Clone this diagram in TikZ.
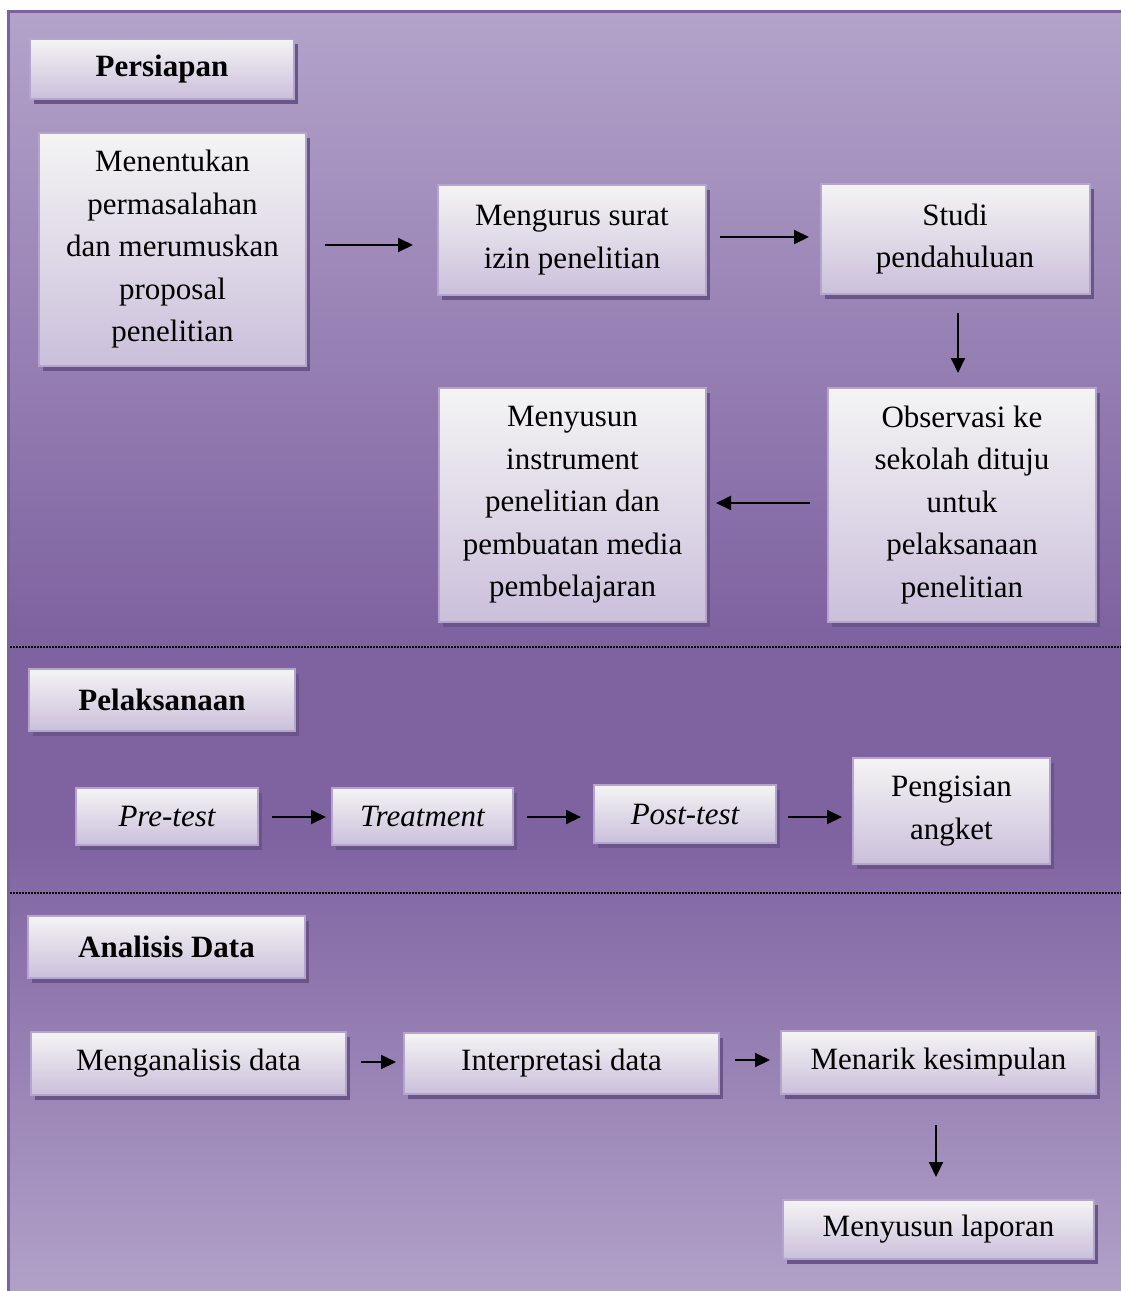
\documentclass[tikz,border=0pt]{standalone}
\usepackage{fontspec}
\setmainfont{Liberation Serif}
\usepackage{tikz}
\usetikzlibrary{positioning,shadows,arrows.meta}
\definecolor{bghigh}{HTML}{B3A3CA}
\definecolor{bgdark}{HTML}{7F63A1}
\definecolor{bglow}{HTML}{B2A2C9}
\definecolor{framecol}{HTML}{7E62A0}
\definecolor{boxtop}{HTML}{F4F4F4}
\definecolor{boxbot}{HTML}{CBBFDB}
\definecolor{boxedge}{HTML}{B5A4CE}
\definecolor{shadowcol}{HTML}{6A5589}
\pgfdeclareverticalshading{bgfade}{100bp}{color(0bp)=(bglow); color(25bp)=(bglow); color(43bp)=(bgdark); color(51bp)=(bgdark); color(75bp)=(bghigh); color(100bp)=(bghigh)}
\tikzstyle{block} = [rectangle, draw=boxedge, line width=2pt, top color=boxtop, bottom color=boxbot, align=center, inner sep=0pt, font=\fontsize{31}{42.5}\selectfont, drop shadow={shadow xshift=4pt, shadow yshift=-5pt, fill=shadowcol, opacity=1}]
\tikzstyle{head} = [block, font=\bfseries\fontsize{31}{42.5}\selectfont]
\tikzstyle{flow} = [-{Triangle[length=15pt,width=14pt]}, line width=2pt, black]
\tikzstyle{sep} = [black, line width=1.2pt, dash pattern=on 1.5pt off 1.5pt]

\begin{document}
\begin{tikzpicture}
  \useasboundingbox (0pt, 0pt) rectangle (1121pt, -1291pt);
  \fill[white] (0pt, 0pt) rectangle (1121pt, -1291pt);
  \draw[framecol, line width=3pt, shading=bgfade] (8.5pt, -11.5pt) rectangle (1130pt, -1300pt);
  \draw[sep] (10pt, -647pt) -- (1121pt, -647pt);
  \draw[sep] (10pt, -893pt) -- (1121pt, -893pt);
  % Persiapan
  \draw (162.0pt, -69.0pt)node[head, minimum width=264pt, minimum height=60pt](0){Persiapan};
  \draw (172.5pt, -249.5pt)node[block, minimum width=267pt, minimum height=233pt](1){Menentukan\\permasalahan\\dan merumuskan\\proposal\\penelitian};
  \draw (572.0pt, -240.0pt)node[block, minimum width=268pt, minimum height=110pt](2){Mengurus surat\\izin penelitian};
  \draw (955.0pt, -239.0pt)node[block, minimum width=269pt, minimum height=110pt](3){Studi\\pendahuluan};
  \draw (962.0pt, -505.0pt)node[block, minimum width=268pt, minimum height=234pt](4){Observasi ke\\sekolah dituju\\untuk\\pelaksanaan\\penelitian};
  \draw (572.5pt, -505.0pt)node[block, minimum width=267pt, minimum height=234pt](5){Menyusun\\instrument\\penelitian dan\\pembuatan media\\pembelajaran};
  % Pelaksanaan
  \draw (162.0pt, -700.0pt)node[head, minimum width=266pt, minimum height=62pt](6){Pelaksanaan};
  \draw (167.0pt, -816.5pt)node[block, minimum width=182pt, minimum height=57pt](7){\itshape Pre-test};
  \draw (422.5pt, -816.5pt)node[block, minimum width=181pt, minimum height=57pt](8){\itshape Treatment};
  \draw (685.0pt, -814.0pt)node[block, minimum width=182pt, minimum height=58pt](9){\itshape Post-test};
  \draw (951.5pt, -811.0pt)node[block, minimum width=197pt, minimum height=106pt](10){Pengisian\\angket};
  % Analisis Data
  \draw (166.5pt, -947.0pt)node[head, minimum width=277pt, minimum height=62pt](11){Analisis Data};
  \draw (188.5pt, -1063.5pt)node[block, minimum width=315pt, minimum height=63pt](12){Menganalisis data};
  \draw (561.5pt, -1063.5pt)node[block, minimum width=315pt, minimum height=61pt](13){Interpretasi data};
  \draw (938.5pt, -1062.5pt)node[block, minimum width=315pt, minimum height=63pt](14){Menarik kesimpulan};
  \draw (938.5pt, -1229.5pt)node[block, minimum width=311pt, minimum height=59pt](15){Menyusun laporan};
  \path[flow] ([shift={(18pt,4.5pt)}]1.east) edge ([shift={(-24pt,-5pt)}]2.west);
  \path[flow] ([shift={(13pt,3pt)}]2.east) edge ([shift={(-10.5pt,2pt)}]3.west);
  \path[flow] ([shift={(3pt,-18pt)}]3.south) edge ([shift={(-4pt,14pt)}]4.north);
  \path[flow] ([shift={(-17pt,2pt)}]4.west) edge ([shift={(9pt,2pt)}]5.east);
  \path[flow] ([shift={(13pt,-0.5pt)}]7.east) edge ([shift={(-5pt,-0.5pt)}]8.west);
  \path[flow] ([shift={(13pt,-0.5pt)}]8.east) edge ([shift={(-12pt,-3pt)}]9.west);
  \path[flow] ([shift={(11pt,-3pt)}]9.east) edge ([shift={(-10pt,-6pt)}]10.west);
  \path[flow] ([shift={(14pt,1.5pt)}]12.east) edge ([shift={(-7pt,1.5pt)}]13.west);
  \path[flow] ([shift={(15pt,3.5pt)}]13.east) edge ([shift={(-10pt,2.5pt)}]14.west);
  \path[flow] ([shift={(-2.5pt,-30pt)}]14.south) edge ([shift={(-2.5pt,22pt)}]15.north);
\end{tikzpicture}
\end{document}
